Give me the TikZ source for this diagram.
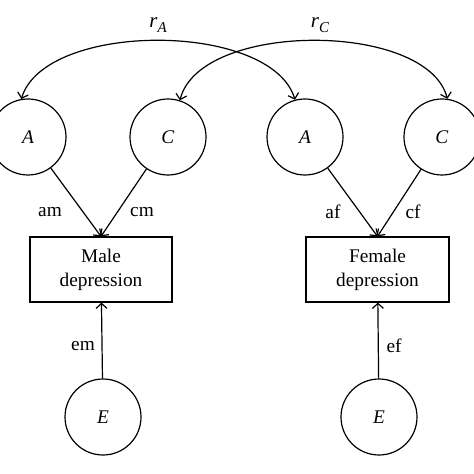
\documentclass[tikz,border=0pt]{standalone}
\usepackage{fontspec}
\setmainfont{Liberation Serif}
\usetikzlibrary{positioning}
\usetikzlibrary{arrows.meta}
\newcommand{\subletter}[2]{\textit{#1}\raisebox{-0.45ex}{\fontsize{15}{15}\selectfont\textit{#2}}}

\begin{document}
\begin{tikzpicture}[x=1bp, y=-1bp, font=\fontsize{19.4}{24}\selectfont, >={Straight Barb[length=5bp, width=11bp]}]

            \tikzstyle{latentNode} = [shape = circle, draw, line width=1.2bp, minimum size=76bp, inner sep=0pt];
            \tikzstyle{traitNode} = [shape = rectangle, draw, line width=1.2bp, minimum height=65bp, align=center];
            \tikzstyle{pathEdge} = [line width=1.2bp, ->];
            \tikzstyle{covEdge} = [line width=1.2bp, <->];

            \useasboundingbox (0,0) rectangle (474,474);

            \node[latentNode] (aM) at ( 28,137) {\textit{A}};
            \node[latentNode] (cM) at (168,137) {\textit{C}};
            \node[latentNode] (aF) at (305,137) {\textit{A}};
            \node[latentNode] (cF) at (442,137) {\textit{C}};

            \node[traitNode, minimum width=142bp] (male)   at (101,269.5) {Male\\depression};
            \node[traitNode, minimum width=143bp] (female) at (377.5,269.5) {Female\\depression};

            \node[latentNode] (eM) at (103,417) {\textit{E}};
            \node[latentNode] (eF) at (379,417) {\textit{E}};

            \node (lam) at ( 50,212) {am};
            \node (lcm) at (142,212) {cm};
            \node (laf) at (333,212) {af};
            \node (lcf) at (413,212) {cf};
            \node (lem) at ( 83,346) {em};
            \node (lef) at (394,346) {ef};

            \node[font=\fontsize{21}{24}\selectfont] (rA) at (158,25) {\subletter{r}{A}};
            \node[font=\fontsize{21}{24}\selectfont] (rC) at (320,25) {\subletter{r}{C}};

            \draw[pathEdge] (aM) -- (male.north);
            \draw[pathEdge] (cM) -- (male.north);
            \draw[pathEdge] (aF) -- (female.north);
            \draw[pathEdge] (cF) -- (female.north);

            \draw[pathEdge] (eM) -- (male);
            \draw[pathEdge] (eF) -- (female);

            \draw[covEdge] (aM.100) .. controls (45,21) and (271,21) .. (aF.105);
            \draw[covEdge] (cM.72) .. controls (200,21) and (427,21) .. (cF.82);
          \end{tikzpicture}
\end{document}
